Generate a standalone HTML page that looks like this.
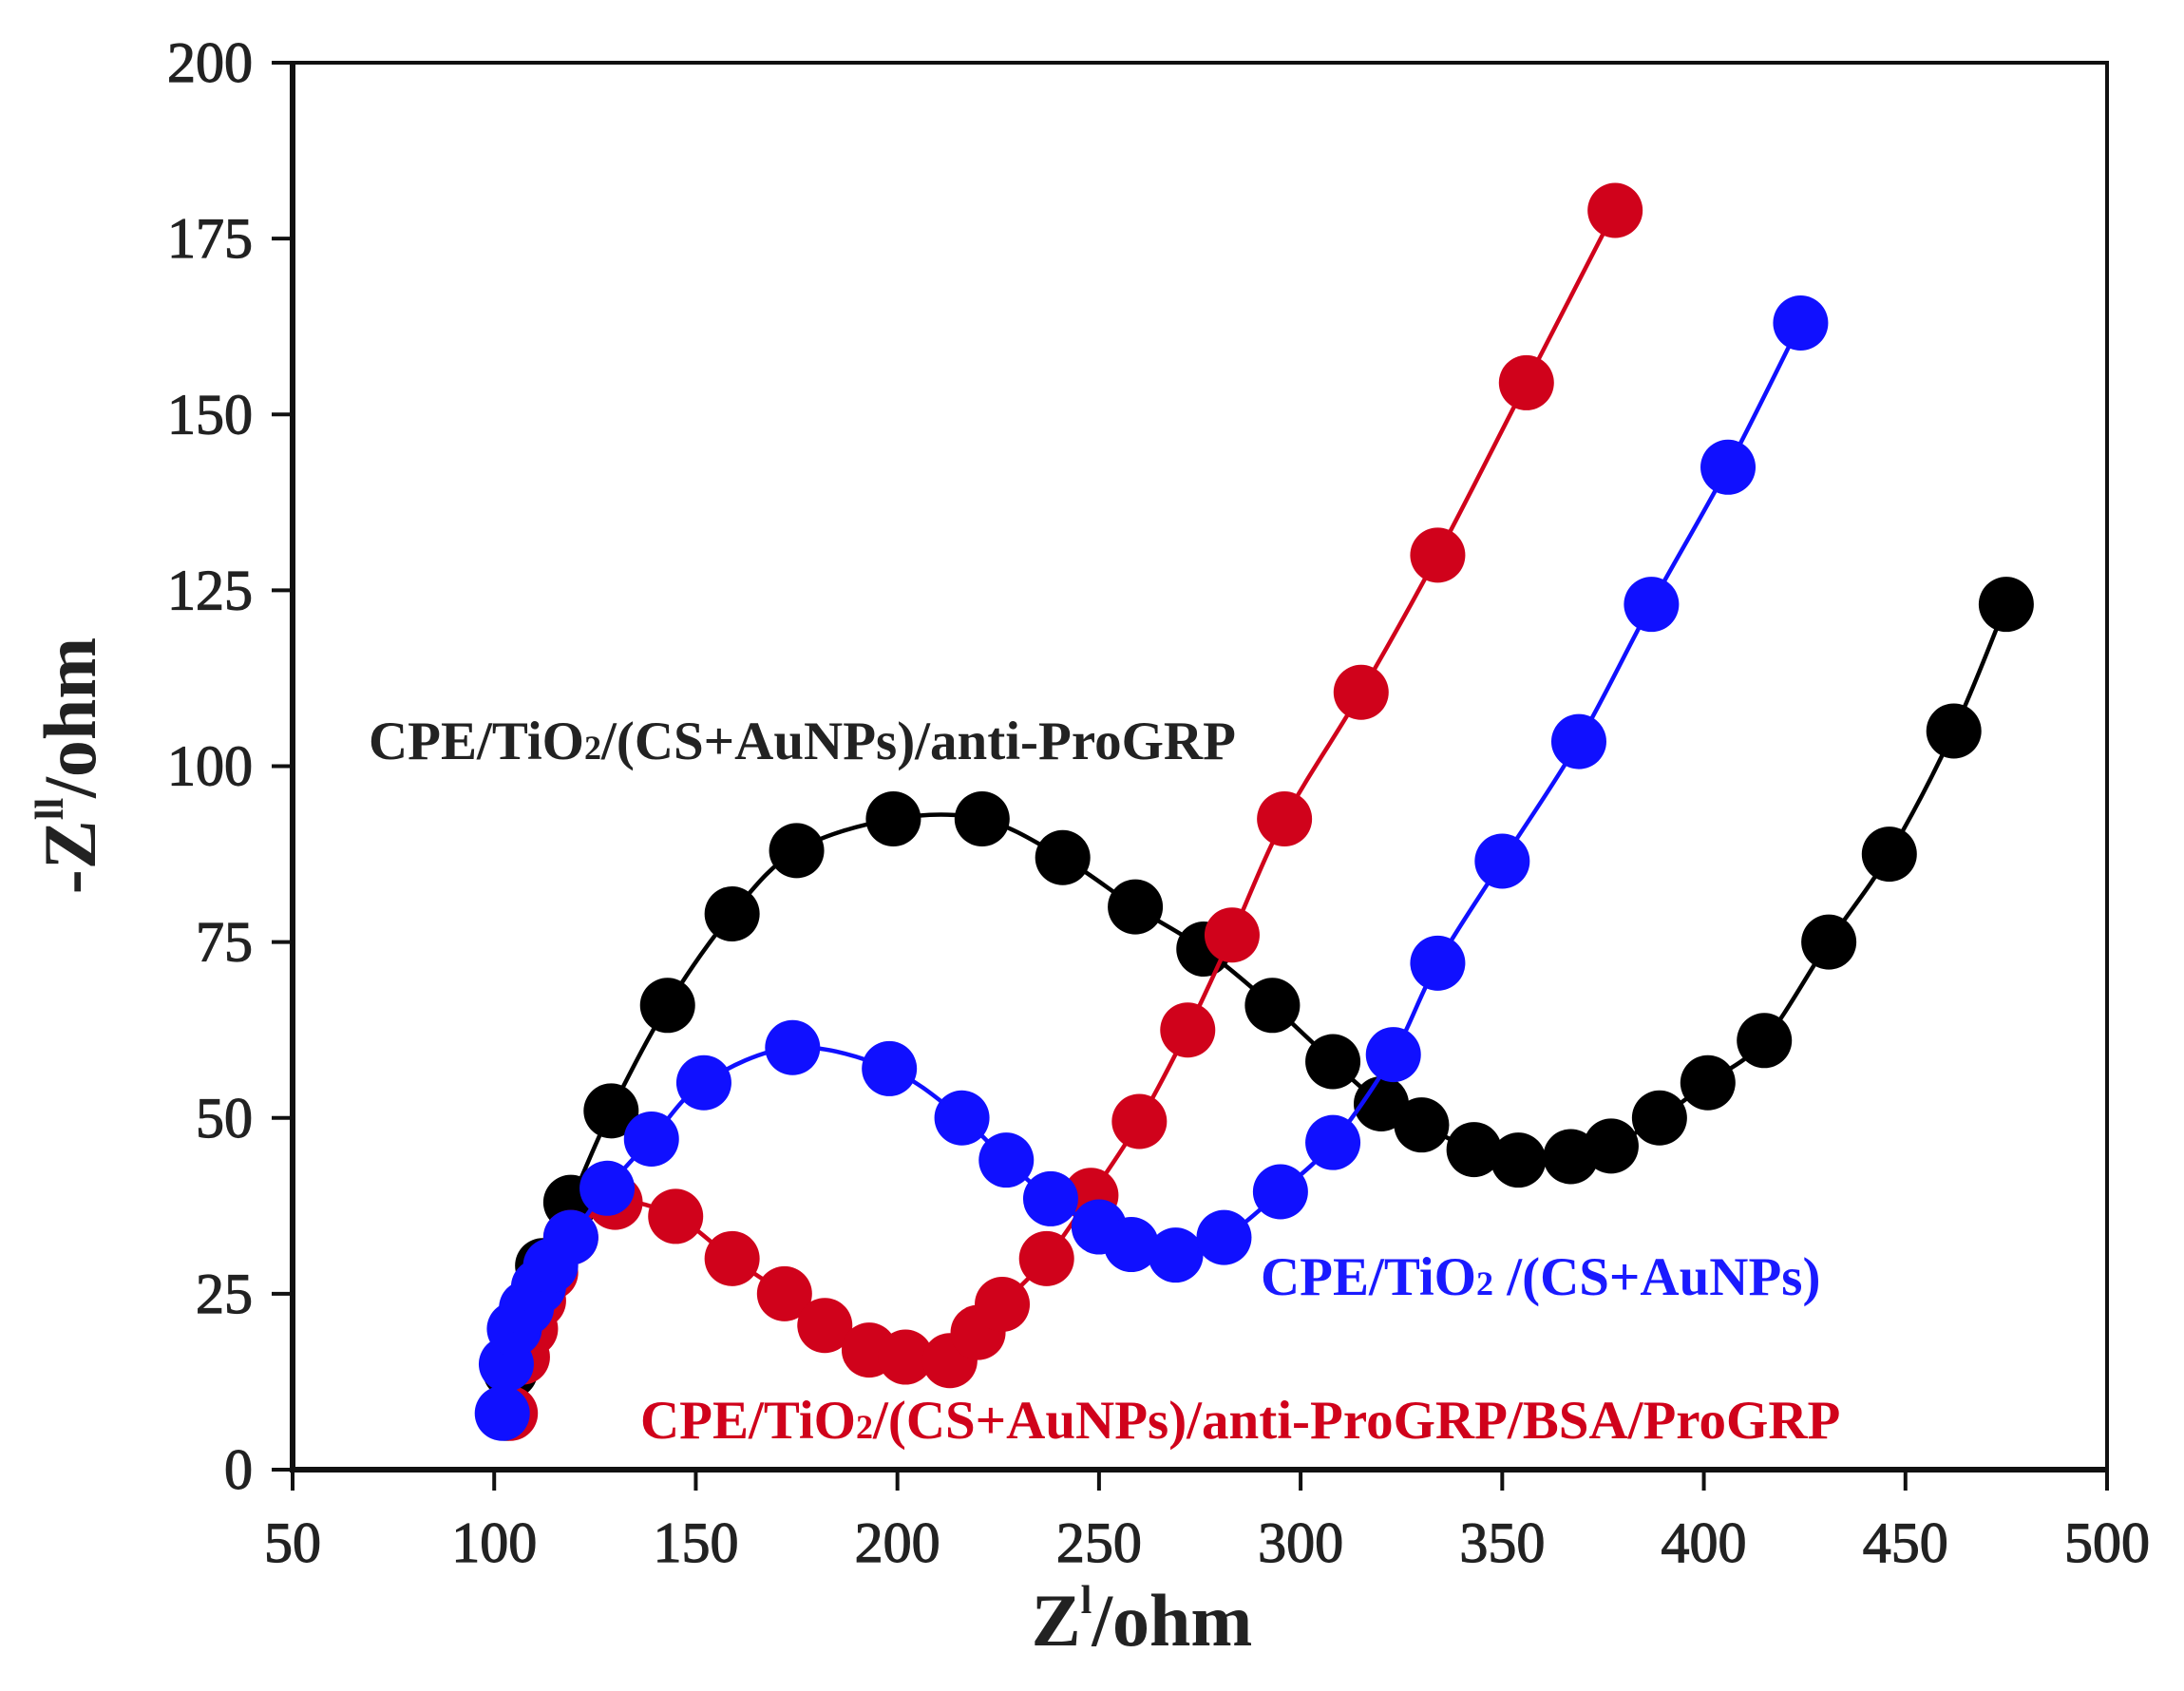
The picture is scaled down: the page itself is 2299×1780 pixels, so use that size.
<!DOCTYPE html>
<html><head><meta charset="utf-8"><style>
html,body{margin:0;padding:0;background:#fff;}
svg{display:block;font-family:"Liberation Serif",serif;}
</style></head><body>
<svg id="chart" width="2299" height="1780" viewBox="0 0 2299 1780">
<g id="axes"></g>
<g id="series"></g>
<text x="388" y="799" font-size="57" font-weight="bold" fill="#222">CPE/TiO<tspan font-size="36">2</tspan>/(CS+AuNPs)/anti-ProGRP</text>
<text x="1327" y="1363" font-size="57" font-weight="bold" fill="#1a1aff">CPE/TiO<tspan font-size="36">2</tspan> /(CS+AuNPs)</text>
<text x="674" y="1514" font-size="57" font-weight="bold" fill="#d0021b">CPE/TiO<tspan font-size="36">2</tspan>/(CS+AuNPs)/anti-ProGRP/BSA/ProGRP</text>
<text x="1202" y="1732" font-size="78" font-weight="bold" text-anchor="middle" fill="#222">Z<tspan font-size="42" dy="-34">l</tspan><tspan dy="34">/ohm</tspan></text>
<text transform="translate(100,806) rotate(-90)" font-size="78" font-weight="bold" text-anchor="middle" fill="#222">-Z<tspan font-size="42" dy="-34">ll</tspan><tspan dy="34">/ohm</tspan></text>
</svg>
<script>
const xTicks=[50,100,150,200,250,300,350,400,450,500];
const yTicks=[0,25,50,75,100,125,150,175,200];
const blackX=[103,104,108,112,119,129,143,159,175,199,221,241,259,276,293,308,320,330,343,354,367,377,389,401,415,431,446,462,475];
const blackY=[8,14,22,29,38,51,66,79,88,92.5,92.5,87,80,74,66,58,52,49,45.5,44,44.5,46,50,55,61,75,87.5,105,123];
const redX=[104,107,109,111,114,119,130,145,159,172,182,193,202,213,220,226,237,248,260,272,283,296,315,334,356,378];
const redY=[8,16,20,24,28,33,38,36,30,25,20.5,17,16,15.5,19.5,23.5,30,39,49.5,62.5,76,92.5,110.5,130,154.5,179];
const blueX=[102,103,105,108,111,114,119,128,139,152,174,198,216,227,238,250,258,269,281,295,308,323,334,350,369,387,406,424];
const blueY=[8,15,20,23,26,29,33,40,47,55,60,57,50,44,38.5,34.5,32,30.5,33,39.5,46.5,59,72,86.5,103.5,123,142.5,163];
const L=308,R=2218,T=66,B=1547;
function sx(v){return L+(v-50)/450*(R-L);}
function sy(v){return B-v/200*(B-T);}
const NS="http://www.w3.org/2000/svg";
function mk(tag,attrs,parent){const e=document.createElementNS(NS,tag);for(const k in attrs)e.setAttribute(k,attrs[k]);parent.appendChild(e);return e;}
const axes=document.getElementById('axes');
let f=mk('rect',{x:L,y:T,width:R-L,height:B-T,fill:'none',stroke:'#111','stroke-width':4},axes);


let lb=mk('path',{d:`M${L},${T} L${L},${B} L${R},${B}`,fill:'none',stroke:'#111','stroke-width':6},axes);


xTicks.forEach(t=>{
 let l=mk('line',{x1:sx(t),x2:sx(t),y1:B,y2:B+22,stroke:'#111','stroke-width':4},axes);
 
 
 let tx=mk('text',{x:sx(t),y:1644,'font-size':60,'text-anchor':'middle',fill:'#222',stroke:'#222','stroke-width':1.2},axes);
 tx.textContent=t;
 
 
});
yTicks.forEach(t=>{
 let l=mk('line',{x1:L-22,x2:L,y1:sy(t),y2:sy(t),stroke:'#111','stroke-width':4},axes);
 
 
 let tx=mk('text',{x:266,y:sy(t)+20,'font-size':60,'text-anchor':'end',fill:'#222',stroke:'#222','stroke-width':1.2},axes);
 tx.textContent=t;
 
 
});
const sg=document.getElementById('series');
function smooth(pts){
 let d=`M${pts[0][0]},${pts[0][1]}`;
 for(let i=0;i<pts.length-1;i++){
  const p0=pts[Math.max(0,i-1)],p1=pts[i],p2=pts[i+1],p3=pts[Math.min(pts.length-1,i+2)];
  const c1=[p1[0]+(p2[0]-p0[0])/6,p1[1]+(p2[1]-p0[1])/6];
  const c2=[p2[0]-(p3[0]-p1[0])/6,p2[1]-(p3[1]-p1[1])/6];
  d+=` C${c1[0]},${c1[1]} ${c2[0]},${c2[1]} ${p2[0]},${p2[1]}`;
 }
 return d;
}
function draw(xs,ys,color,name){
 const g=mk('g',{},sg);
 
 
 const pts=xs.map((x,i)=>[sx(x),sy(ys[i])]);
 const p=mk('path',{d:smooth(pts),fill:'none',stroke:color,'stroke-width':4.5},g);
 
 
 xs.forEach((x,i)=>{
  const c=mk('circle',{cx:sx(x),cy:sy(ys[i]),r:29,fill:color},g);
  
  
 });
}
draw(blackX,blackY,'#000','black');
draw(redX,redY,'#d0021b','red');
draw(blueX,blueY,'#1010ff','blue');
</script>
</body></html>
